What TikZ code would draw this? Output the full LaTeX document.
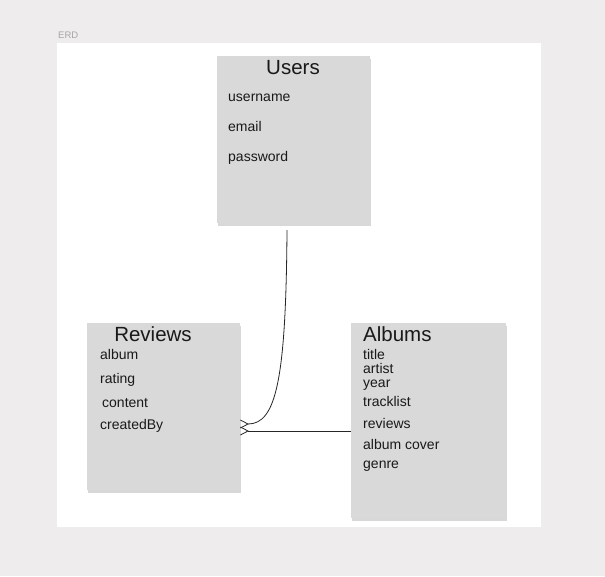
\documentclass[tikz,border=0pt]{standalone}
\usepackage{fontspec}
\setmainfont{Liberation Sans}
\usetikzlibrary{shadows, positioning, calc}
\definecolor{pageGrey}{HTML}{EEECED}
\definecolor{boxGrey}{HTML}{D9D9D9}
\colorlet{lineColor}{black!85}
\tikzstyle{entity}=[rectangle, anchor=north west, inner sep=0pt, fill=boxGrey,
drop shadow={shadow xshift=0.6pt, shadow yshift=-2.4pt, opacity=0.3}]
\tikzstyle{eTitle}=[inner sep=0pt, text height=14pt, text depth=0pt,
font=\fontsize{20.5}{24}\selectfont, text=black!90]
\tikzstyle{eField}=[anchor=west, inner sep=0pt, text height=9pt, text depth=2pt,
yshift=-1.5pt, font=\fontsize{14}{16}\selectfont, text=black!90]
\tikzstyle{conn}=[line width=0.8pt, draw=lineColor]
\tikzstyle{crow}=[line width=0.8pt, draw=lineColor]

\begin{document}
\begin{tikzpicture}[x=1pt, y=-1pt]
      \fill[pageGrey] (0,0) rectangle (605,576);
      \useasboundingbox (0,0) rectangle (605,576);
      \node(frameLabel) [anchor=west, inner sep=0pt, text=black!35,
        font=\fontsize{9.5}{10}\selectfont] at (58,35) {ERD};
      \fill[white] (57,43) rectangle (541,527);
      % entities
      \node(users) [entity, minimum width=153pt, minimum height=167pt] at (217,56) {};
      \node(reviews) [entity, minimum width=153pt, minimum height=167pt] at (87,323) {};
      \node(albums) [entity, minimum width=155pt, minimum height=195pt] at (351,323) {};
      % users
      \node(usersT) [eTitle] at (293,67) {Users};
      \node(uName) [eField] at (228,96) {username};
      \node(uMail) [eField] at (228,126) {email};
      \node(uPass) [eField] at (228,156) {password};
      % reviews
      \node(reviewsT) [eTitle] at (153,334) {Reviews};
      \node(rAlbum) [eField] at (100,354) {album};
      \node(rRating) [eField] at (100,378) {rating};
      \node(rContent) [eField] at (102,402) {content};
      \node(rBy) [eField] at (100,424) {createdBy};
      % albums
      \node(albumsT) [eTitle, anchor=west] at (363,334) {Albums};
      \node(aTitle) [eField] at (363,354) {title};
      \node(aArtist) [eField] at (363,368) {artist};
      \node(aYear) [eField] at (363,382) {year};
      \node(aTracks) [eField] at (363,401) {tracklist};
      \node(aReviews) [eField] at (363,423) {reviews};
      \node(aCover) [eField] at (363,444) {album cover};
      \node(aGenre) [eField] at (363,463) {genre};
      % connectors
      \coordinate(uEnd) at (287,230);
      \coordinate(rFoot1) at (248,424);
      \coordinate(rFoot2) at (248,431);
      \coordinate(aEnd) at (albums.west |- rFoot2);
      \draw [conn] (uEnd) .. controls (286,380) and (276,424) .. (rFoot1);
      \draw [conn] (rFoot2) -- (aEnd);
      \draw [crow] (reviews.east |- 0,420) -- (rFoot1) -- (reviews.east |- 0,428);
      \draw [crow] (reviews.east |- 0,427) -- (rFoot2) -- (reviews.east |- 0,435);
    \end{tikzpicture}
\end{document}
